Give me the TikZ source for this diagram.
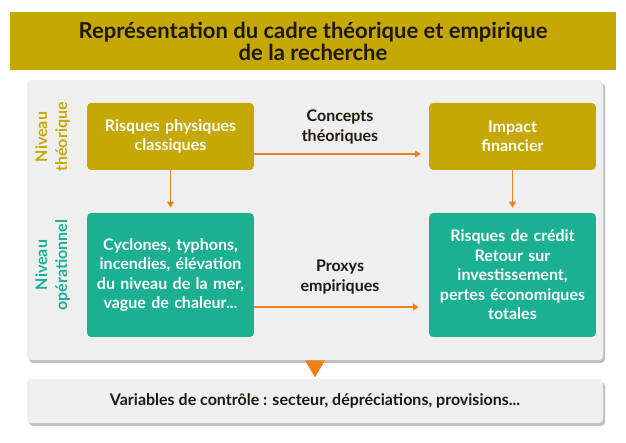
\documentclass[tikz,border=0pt]{standalone}
\usepackage{fontspec}
\setmainfont{Lato}
\usetikzlibrary{arrows.meta,shadows}
\definecolor{ocre}{RGB}{198,168,4}
\definecolor{sarcelle}{RGB}{28,176,146}
\definecolor{orangef}{RGB}{240,128,24}
\definecolor{grisfond}{RGB}{239,239,239}
\definecolor{encre}{RGB}{30,24,14}
\begin{document}
\begin{tikzpicture}[x=1pt, y=1pt, thick,
		boite/.style={rectangle, rounded corners=4pt, minimum width=165pt, text width=160pt, align=center, text=white, font=\bfseries\fontsize{16}{19.5}\selectfont},
		theo/.style={boite, fill=ocre, minimum height=67pt},
		oper/.style={boite, fill=sarcelle, minimum height=124pt},
		panneau/.style={rectangle, rounded corners=4pt, fill=grisfond, minimum width=576pt, drop shadow={shadow xshift=2pt, shadow yshift=-3pt, fill=black!35, opacity=0.7}},
		niveau/.style={rotate=90, align=center, font=\bfseries\fontsize{16}{20}\selectfont},
		legende/.style={align=center, text=encre, font=\bfseries\fontsize{16}{20}\selectfont},
		fleche/.style={orangef, line width=1.3pt, -{Triangle[width=7pt,length=6pt]}}
		]
	\useasboundingbox (0,0) rectangle (626,443);
	\node [fill=ocre, minimum width=606pt, minimum height=58pt, align=center, text=encre, font=\bfseries\fontsize{22}{22}\selectfont] (titre) at (313,402) {Représentation du cadre théorique et empirique\\de la recherche};
	\node [panneau, minimum height=280pt] (panel) at (315,223) {};
	\node [panneau, minimum height=44pt, text=encre, font=\bfseries\fontsize{16}{18}\selectfont] (ctrl) at (315,42) {Variables de contrôle : secteur, dépréciations, provisions...};
	\fill [orangef] ([xshift=-10pt]panel.south) -- ([xshift=10pt]panel.south) -- ([yshift=-17pt]panel.south) -- cycle;
	\node [niveau, text=ocre] (nt) at (52.5,306) {Niveau\\théorique};
	\node [niveau, text=sarcelle] (no) at (52.5,178) {Niveau\\opérationnel};
	\node [theo] (rpc) at (170.5,306.5) {Risques physiques\\classiques};
	\node [theo] (impact) at (512.5,306.5) {Impact\\financier};
	\node [oper] (cyc) at (170.5,168) {Cyclones, typhons,\\incendies, élévation\\du niveau de la mer,\\vague de chaleur...};
	\node [oper] (credit) at (512.5,168) {Risques de crédit\\Retour sur\\investissement,\\pertes économiques\\totales};
	\node [legende] (concepts) at (340,316) {Concepts\\théoriques};
	\node [legende] (proxys) at (340,166) {Proxys\\empiriques};
	\draw [fleche] (rpc.south) -- ([yshift=5pt]cyc.north);
	\draw [fleche] (impact.south) -- ([yshift=5pt]credit.north);
	\draw [fleche] ([yshift=-17.5pt]rpc.east) -- ([yshift=-17.5pt,xshift=-8pt]impact.west);
	\draw [fleche] ([yshift=-32pt]cyc.east) -- ([yshift=-32pt,xshift=-10pt]credit.west);
\end{tikzpicture}
\end{document}
